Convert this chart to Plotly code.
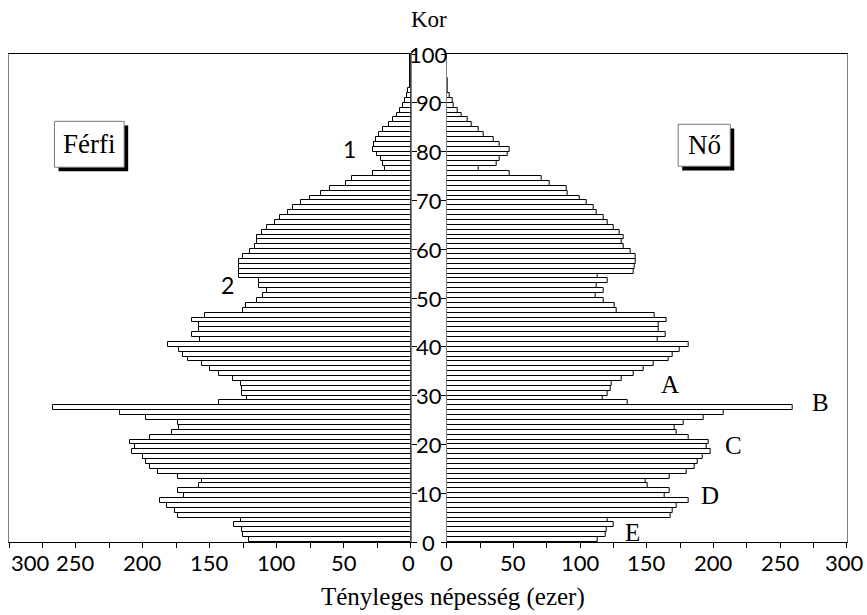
import plotly.graph_objects as go

# ---------------- data ----------------
ages = list(range(0, 100))

ferfi = [121, 125, 126, 132, 127, 174, 176, 182, 187, 169,
         174, 158, 156, 174, 189, 195, 198, 200, 208, 206,
         210, 195, 178, 173, 174, 198, 217, 267, 143, 122,
         126, 126, 127, 133, 143, 150, 156, 166, 170, 173,
         181, 157, 163, 158, 158, 163, 154, 125, 123, 115,
         110, 107, 113, 113, 128, 128, 128, 128, 125, 120,
         116, 115, 115, 111, 107, 101, 98, 92, 88, 82,
         75, 67, 60, 48, 44, 28, 19, 20.5, 22, 25.5,
         28.5, 27.5, 26, 24, 20.5, 16.5, 13.5, 10, 8, 5.5,
         4.2, 3, 1.7, 0.9, 0.6, 0.4, 0.3, 0.3, 0.2, 0.2]

no = [113, 119, 120, 125, 121, 167.5, 169.5, 172.5, 181, 163,
      167, 151, 149, 167, 180, 186, 188, 192, 197.5, 194.5,
      196, 181, 172, 171, 177.5, 192.5, 207.5, 259.5, 136, 117,
      121, 123, 124, 131, 140.5, 147.5, 155, 166, 169, 174.5,
      181, 158, 164, 159, 159, 165, 156, 127.5, 126, 117.5,
      112, 117.5, 112.5, 120.5, 113, 140.5, 141, 142, 142, 138,
      133, 131, 133, 130, 125, 121, 117.5, 112.5, 110.5, 105,
      100, 91, 90, 77.5, 71, 47.5, 24, 37.5, 40, 46,
      47.5, 40, 35.5, 28, 24, 18.5, 15.5, 11, 8, 5.5,
      4.5, 2, 1, 0.6, 0.4, 0.3, 0.3, 0.2, 0.2, 0.2]

kor_ticks = list(range(0, 101, 10))
x_label_vals = [0, 50, 100, 150, 200, 250, 300]
x_tick_vals = list(range(0, 301, 25))

# ---------------- layout helpers ----------------
L_DOM = [0.0, 0.4794]
R_DOM = [0.5223, 1.0]
MID = (L_DOM[1] + R_DOM[0]) / 2

SERIF = "Liberation Serif"
NUM = "Lato"
NUM_SIZE = 22

y_mid = [a + 0.5 for a in ages]

bar_style = dict(color="white", line=dict(color="black", width=1))

fig = go.Figure()
fig.add_trace(go.Bar(x=ferfi, y=y_mid, orientation="h", xaxis="x", yaxis="y",
                     marker=bar_style, width=1, showlegend=False, hoverinfo="skip"))
fig.add_trace(go.Bar(x=no, y=y_mid, orientation="h", xaxis="x2", yaxis="y2",
                     marker=bar_style, width=1, showlegend=False, hoverinfo="skip"))

xcommon = dict(showline=True, linecolor="black", linewidth=1, mirror=True,
               ticks="outside", tickvals=x_tick_vals, ticklen=5, tickcolor="black",
               tickwidth=1, showticklabels=False, showgrid=False, zeroline=False)
ycommon = dict(domain=[0, 1], range=[0, 100], showline=True, linecolor="#808080",
               linewidth=1, mirror=True, ticks="outside", tickvals=kor_ticks,
               ticklen=5, tickcolor="black", tickwidth=1, showticklabels=False,
               showgrid=False, zeroline=False)

fig.update_layout(
    width=867, height=615,
    margin=dict(l=9, r=20, t=54, b=73),
    paper_bgcolor="white", plot_bgcolor="white",
    bargap=0,
    xaxis=dict(domain=L_DOM, range=[300, 0], anchor="y", **xcommon),
    xaxis2=dict(domain=R_DOM, range=[0, 300], anchor="y2", **xcommon),
    yaxis=dict(anchor="x", side="right", **ycommon),
    yaxis2=dict(anchor="x2", side="left", **ycommon),
)

ann = []
# age labels in the middle strip
for k in kor_ticks:
    ann.append(dict(x=MID, xref="paper", y=k, yref="y", text=str(k), showarrow=False,
                    xanchor="center", yanchor="middle",
                    font=dict(family=NUM, size=NUM_SIZE, color="black")))
# bottom value labels
for v in x_label_vals:
    ann.append(dict(x=v, xref="x", y=-0.043, yref="paper", text=str(v), showarrow=False,
                    xanchor="left" if v == 300 else "center", yanchor="middle",
                    xshift=-2 if v == 0 else 0,
                    font=dict(family=NUM, size=NUM_SIZE, color="black")))
    ann.append(dict(x=v, xref="x2", y=-0.043, yref="paper", text=str(v), showarrow=False,
                    xanchor="right" if v == 300 else "center", yanchor="middle",
                    xshift=19 if v == 300 else 0,
                    font=dict(family=NUM, size=NUM_SIZE, color="black")))
# titles
ann.append(dict(x=MID, xref="paper", y=1.071, yref="paper", text="Kor", showarrow=False,
                xanchor="center", yanchor="middle",
                font=dict(family=SERIF, size=23, color="black")))
ann.append(dict(x=(453 - 9) / 838, xref="paper", y=-0.113, yref="paper",
                text="Tényleges népesség (ezer)", showarrow=False,
                xanchor="center", yanchor="middle",
                font=dict(family=SERIF, size=25, color="black")))

# boxes with shadows
boxes = [
    ("x", "y", 266, 214, 76.8, 86.2, -3, "Férfi"),
    ("x2", "y2", 173.5, 212.5, 77.0, 85.6, 3, "Nő"),
]
shapes = []
for xr, yr, bx0, bx1, by0, by1, dx, label in boxes:
    shapes.append(dict(type="rect", xref=xr, yref=yr, x0=bx0 + dx, x1=bx1 + dx,
                       y0=by0 - 0.85, y1=by1 - 0.85, fillcolor="black",
                       line=dict(width=0), layer="above"))
    shapes.append(dict(type="rect", xref=xr, yref=yr, x0=bx0, x1=bx1, y0=by0, y1=by1,
                       fillcolor="white", line=dict(color="#777", width=1), layer="above"))
    ann.append(dict(x=(bx0 + bx1) / 2, xref=xr, y=(by0 + by1) / 2, yref=yr, text=label,
                    showarrow=False, xanchor="center", yanchor="middle",
                    font=dict(family=SERIF, size=27, color="black")))

# markers in the chart
marks = [
    ("x", "y", 45.4, 80.5, "1", NUM, 23),
    ("x", "y", 136.8, 52.7, "2", NUM, 23),
    ("x2", "y2", 167.5, 32.2, "A", SERIF, 25),
    ("x2", "y2", 280, 28.5, "B", SERIF, 25),
    ("x2", "y2", 215, 19.8, "C", SERIF, 25),
    ("x2", "y2", 197.5, 9.6, "D", SERIF, 25),
    ("x2", "y2", 139, 2.0, "E", SERIF, 25),
]
for xr, yr, mx, my, t, fam, sz in marks:
    ann.append(dict(x=mx, xref=xr, y=my, yref=yr, text=t, showarrow=False,
                    xanchor="center", yanchor="middle",
                    font=dict(family=fam, size=sz, color="black")))

fig.update_layout(annotations=ann, shapes=shapes)

fig.write_html("out.html",
               config={"displayModeBar": False},
               post_script="document.body.style.margin='0px';"
                           "document.body.style.overflow='hidden';")
